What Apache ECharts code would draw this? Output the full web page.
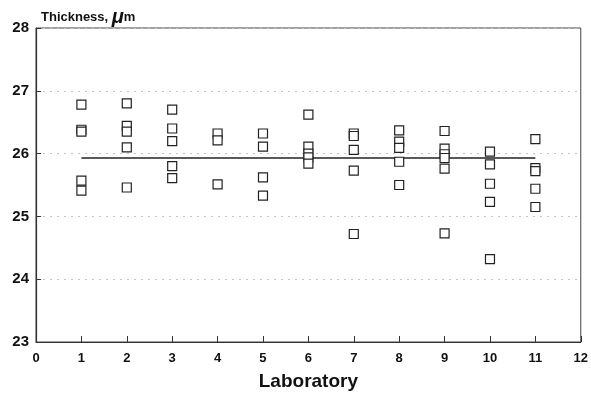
<!DOCTYPE html>
<html><head><meta charset="utf-8">
<script src="https://cdn.jsdelivr.net/npm/echarts@6/dist/echarts.min.js"></script>
<style>html,body{margin:0;padding:0;background:#fff}#c{width:591px;height:396px}</style>
</head><body><div id="c"></div>
<script>
const laboratories = [1, 2, 3, 4, 5, 6, 7, 8, 9, 10, 11];
const lab1 = [26.78, 26.38, 26.35, 25.57, 25.41];
const lab2 = [26.80, 26.44, 26.35, 26.10, 25.46];
const lab3 = [26.70, 26.40, 26.20, 25.80, 25.61];
const lab4 = [26.32, 26.21, 25.51];
const lab5 = [26.32, 26.11, 25.62, 25.33];
const lab6 = [26.62, 26.11, 26.00, 25.94, 25.84];
const lab7 = [26.32, 26.28, 26.06, 25.73, 24.72];
const lab8 = [26.37, 26.19, 26.09, 25.87, 25.50];
const lab9 = [26.36, 26.08, 25.99, 25.93, 25.76, 24.73];
const lab10 = [26.03, 25.83, 25.52, 25.23, 24.32];
const lab11 = [26.23, 25.77, 25.72, 25.44, 25.15];
const thicknessByLab = [lab1, lab2, lab3, lab4, lab5, lab6, lab7, lab8, lab9, lab10, lab11];
const grandMean = 25.93;
const xTicks = [0, 12, 1];
const yTicks = [23, 28, 1];

const points = [];
laboratories.forEach((lab, i) => thicknessByLab[i].forEach(v => points.push([lab, v])));

const chart = echarts.init(document.getElementById('c'), null, {renderer: 'canvas'});
const font = '"Liberation Sans", Arial, sans-serif';
chart.setOption({
  animation: false,
  backgroundColor: '#fff',
  title: {
    left: 36, top: 2,
    text: '{a|Thickness, }{b|μ}{a|m}',
    textStyle: {
      rich: {
        a: {fontFamily: font, fontSize: 13, fontWeight: 'bold', color: '#111'},
        b: {fontFamily: font, fontSize: 20, fontWeight: 'bold', fontStyle: 'italic', color: '#111'}
      }
    }
  },
  grid: {left: 36, right: 6, top: 28, bottom: 51, show: true, borderColor: '#444', borderWidth: 1},
  xAxis: {
    type: 'value', min: xTicks[0], max: xTicks[1], interval: xTicks[2],
    name: 'Laboratory', nameLocation: 'middle', nameGap: 30,
    nameTextStyle: {fontFamily: font, fontSize: 19, fontWeight: 'bold', color: '#111'},
    axisLine: {lineStyle: {color: '#333', width: 1.2}},
    axisTick: {inside: true, length: 6, lineStyle: {color: '#333'}},
    axisLabel: {fontFamily: font, fontSize: 13, fontWeight: 'bold', color: '#111', margin: 10},
    splitLine: {show: false}
  },
  yAxis: {
    type: 'value', min: yTicks[0], max: yTicks[1], interval: yTicks[2],
    axisLine: {show: true, lineStyle: {color: '#333', width: 1.2}},
    axisTick: {show: true, inside: true, length: 5, lineStyle: {color: '#333'}},
    axisLabel: {fontFamily: font, fontSize: 15, fontWeight: 'bold', color: '#111', margin: 7},
    splitLine: {show: true, lineStyle: {color: '#c4c4c4', type: [2, 5], width: 1}}
  },
  series: [
    {
      type: 'line', data: [[laboratories[0], grandMean], [laboratories[laboratories.length - 1], grandMean]],
      symbol: 'none', lineStyle: {color: '#222', width: 1.5}, z: 2
    },
    {
      type: 'scatter', data: points, symbol: 'rect', symbolSize: 9,
      itemStyle: {color: '#fff', borderColor: '#222', borderWidth: 1.2, opacity: 1}, z: 3
    }
  ]
});
</script></body></html>
